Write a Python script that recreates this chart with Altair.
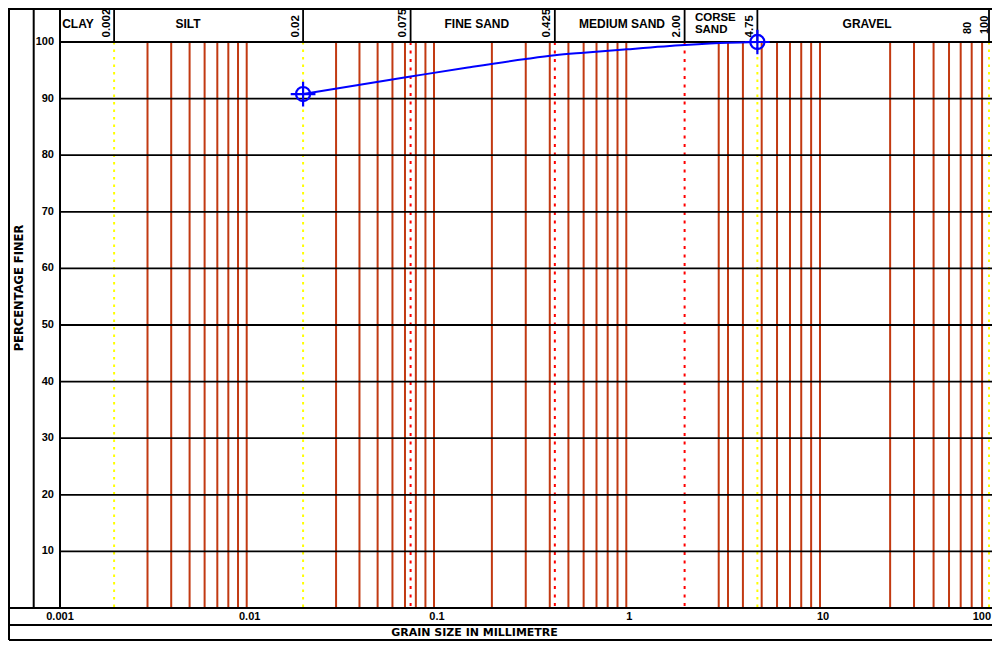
import altair as alt
import pandas as pd

# ---------------- data ----------------
# solid red log-grid lines (grain size, mm)
red_lines_mm = [0.003, 0.004, 0.005, 0.006, 0.007, 0.008, 0.009, 0.01,
                0.03, 0.04, 0.05, 0.06, 0.07, 0.08, 0.09, 0.1,
                0.2, 0.3, 0.4, 0.5, 0.6, 0.7, 0.8, 0.9, 1.0,
                3.0, 3.35, 4.0, 5.0, 6.0, 7.0, 8.0, 9.0, 10.0,
                26, 36, 47, 58, 68, 79, 91, 107]
yellow_lines_mm = [0.002, 0.02, 4.75, 100]
red_dotted_mm = [0.075, 0.425, 2.0]
header_dividers_mm = [0.002, 0.02, 0.075, 0.425, 2.0, 4.75, 100]
boundary_mm = [0.002, 0.02, 0.075, 0.425, 2.0, 4.75]
boundary_labels = ["0.002", "0.02", "0.075", "0.425", "2.00", "4.75"]
end_mm = [80, 100]
end_labels = ["80", "100"]
zone_names = ["CLAY", "SILT", "FINE SAND", "MEDIUM SAND", "GRAVEL"]
zone_at_mm = [0.00129, 0.0049, 0.167, 0.95, 19.0]
coarse_name = ["CORSE\nSAND"]
coarse_at_mm = [2.26]
y_ticks = [10, 20, 30, 40, 50, 60, 70, 80, 90, 100]
x_tick_mm = [0.001, 0.01, 0.1, 1, 10]
x_tick_labels = ["0.001", "0.01", "0.1", "1", "10"]
x_last_tick_mm = [100]
x_last_tick_label = ["100"]
curve_mm = [0.02, 0.075, 0.15, 0.3, 0.425, 0.6, 1.0, 2.0, 3.35, 4.75]
curve_pct = [90.8, 93.9, 95.5, 97.0, 97.65, 98.1, 98.7, 99.45, 99.86, 100]
marker_mm = [0.02, 4.75]
marker_pct = [90.8, 100]

# ---------------- layout ----------------
W, H = 932, 566
FONT = "Liberation Sans, Arial, sans-serif"
TFONT = "DejaVu Sans, Verdana, sans-serif"
RED = "#C23A12"

xscale = alt.Scale(type="log", domain=[0.001, 0.01, 0.1, 1, 10, 100],
                   range=[-3, 186.7, 374, 566.3, 760, 929], nice=False)
yscale = alt.Scale(domain=[0, 100], range=[H, 0], nice=False, zero=False)

def X(field):
    return alt.X(field, type="quantitative", scale=xscale, axis=None)

def Y(field):
    return alt.Y(field, type="quantitative", scale=yscale, axis=None)

red_df = pd.DataFrame({"mm": red_lines_mm})
yel_df = pd.DataFrame({"mm": yellow_lines_mm})
rdot_df = pd.DataFrame({"mm": red_dotted_mm})
hdr_df = pd.DataFrame({"mm": header_dividers_mm})
bnd_df = pd.DataFrame({"mm": boundary_mm, "t": boundary_labels})
end_df = pd.DataFrame({"mm": end_mm, "t": end_labels})
zone_df = pd.DataFrame({"mm": zone_at_mm, "t": zone_names})
coarse_df = pd.DataFrame({"mm": coarse_at_mm, "t": coarse_name})
yt_df = pd.DataFrame({"p": y_ticks, "t": [str(v) for v in y_ticks]})
xt_df = pd.DataFrame({"mm": x_tick_mm, "t": x_tick_labels})
xlast_df = pd.DataFrame({"mm": x_last_tick_mm, "t": x_last_tick_label})
curve_df = pd.DataFrame({"mm": curve_mm, "pct": curve_pct})
mark_df = pd.DataFrame({"mm": marker_mm, "pct": marker_pct})
one = pd.DataFrame({"k": [0]})

red_rules = alt.Chart(red_df).mark_rule(color=RED, strokeWidth=2).encode(
    x=X("mm"), y=alt.value(0), y2=alt.value(H))
yellow_rules = alt.Chart(yel_df).mark_rule(color="#FFFF00", strokeWidth=2, strokeDash=[2.5, 5]).encode(
    x=X("mm"), y=alt.value(0), y2=alt.value(H))
rdot_rules = alt.Chart(rdot_df).mark_rule(color="#FF0000", strokeWidth=2, strokeDash=[3, 5.5]).encode(
    x=X("mm"), y=alt.value(0), y2=alt.value(H))
grid = alt.Chart(yt_df).mark_rule(color="black", strokeWidth=1.8).encode(
    y=Y("p"), x=alt.value(0), x2=alt.value(W))
hdr_rules = alt.Chart(hdr_df).mark_rule(color="black", strokeWidth=1.8).encode(
    x=X("mm"), y=alt.value(-33), y2=alt.value(0))

def seg(x1, y1, x2, y2, w=2.0):
    return alt.Chart(one).mark_rule(color="black", strokeWidth=w).encode(
        x=alt.value(x1), x2=alt.value(x2), y=alt.value(y1), y2=alt.value(y2))

frame = [
    seg(-51, -33, -51, 598),      # outer left border
    seg(-52, -33, W, -33),        # top border
    seg(-26.3, -33, -26.3, H),    # y-label column left line
    seg(0, -33, 0, H),            # plot left line
    seg(-51, H, W, H),            # axis line
    seg(-51, 583, W, 583),        # tick label row bottom
    seg(-51, 598, W, 598),        # bottom border
]

curve = alt.Chart(curve_df).mark_line(color="#0000FF", strokeWidth=2, interpolate="monotone").encode(
    x=X("mm"), y=Y("pct"))
marker_path = "M -1 0 A 1 1 0 1 0 1 0 A 1 1 0 1 0 -1 0 M -1.75 0 L 1.75 0 M 0 -1.75 L 0 1.75"
markers = alt.Chart(mark_df).mark_point(shape=marker_path, filled=False, color="#0000FF",
                                        strokeWidth=2.2, size=200, opacity=1).encode(
    x=X("mm"), y=Y("pct"))

ytext = alt.Chart(yt_df).mark_text(font=FONT, fontSize=11, fontWeight="bold", align="right",
                                   baseline="middle", color="black").encode(
    y=Y("p"), x=alt.value(-6), text="t:N")
xtext = alt.Chart(xt_df).mark_text(font=FONT, fontSize=11, fontWeight="bold", align="center",
                                   baseline="middle", color="black", xOffset=3).encode(
    x=X("mm"), y=alt.value(574.5), text="t:N")
xlast = alt.Chart(xlast_df).mark_text(font=FONT, fontSize=11, fontWeight="bold", align="right",
                                      baseline="middle", color="black", xOffset=2).encode(
    x=X("mm"), y=alt.value(574.5), text="t:N")
bnd_text = alt.Chart(bnd_df).mark_text(font=FONT, fontSize=11.5, fontWeight="bold", align="left",
                                       baseline="middle", angle=270, color="black", xOffset=-7.5).encode(
    x=X("mm"), y=alt.value(-4.5), text="t:N")
end_text = alt.Chart(end_df).mark_text(font=FONT, fontSize=11, fontWeight="bold", align="left",
                                       baseline="middle", angle=270, color="black", xOffset=-4.5).encode(
    x=X("mm"), y=alt.value(-8), text="t:N")
zone_text = alt.Chart(zone_df).mark_text(font=FONT, fontSize=12, fontWeight="bold", align="center",
                                         baseline="middle", color="black").encode(
    x=X("mm"), y=alt.value(-18), text="t:N")
coarse_text = alt.Chart(coarse_df).mark_text(font=FONT, fontSize=11.5, fontWeight="bold", align="left",
                                             baseline="middle", color="black", lineBreak="\n",
                                             lineHeight=12).encode(
    x=X("mm"), y=alt.value(-24.5), text="t:N")
xtitle = alt.Chart(one).mark_text(text="GRAIN SIZE IN MILLIMETRE", font=TFONT, fontSize=11,
                                  fontWeight="bold", align="center", baseline="middle", color="black").encode(
    x=alt.value(414.5), y=alt.value(591))
ytitle = alt.Chart(one).mark_text(text="PERCENTAGE FINER", font=TFONT, fontSize=11.5, fontWeight="bold",
                                  align="center", baseline="middle", angle=270, color="black").encode(
    x=alt.value(-40), y=alt.value(246))

chart = alt.layer(
    red_rules, yellow_rules, rdot_rules, grid, hdr_rules, *frame,
    curve, markers, ytext, xtext, xlast, bnd_text, end_text, zone_text, coarse_text, xtitle, ytitle
).properties(
    width=W, height=H,
    autosize=alt.AutoSizeParams(type="none"),
    padding={"left": 52, "top": 34, "right": 0, "bottom": 33},
    background="white",
).configure_view(stroke=None)

chart.save("out.html", embed_options={"renderer": "svg", "actions": False})
